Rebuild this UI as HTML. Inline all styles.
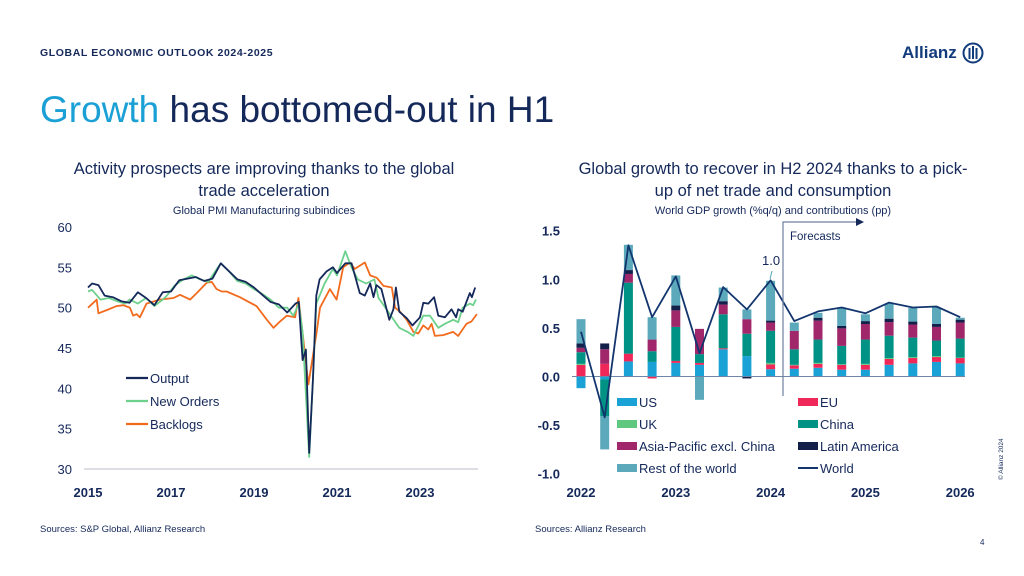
<!DOCTYPE html>
<html><head><meta charset="utf-8"><style>
html,body{margin:0;padding:0;background:#fff;}
svg{display:block;font-family:"Liberation Sans",sans-serif;}
</style></head><body>
<svg id="s" width="1024" height="576" viewBox="0 0 1024 576">
<text x="40" y="56" font-size="10.5" font-weight="bold" fill="#14285a" letter-spacing="0.6">GLOBAL ECONOMIC OUTLOOK 2024-2025</text>
<g>
<text x="902" y="58" font-size="17" font-weight="bold" fill="#123c7c">Allianz</text>
<circle cx="973" cy="53" r="9.5" fill="none" stroke="#123c7c" stroke-width="2"/>
<rect x="968.5" y="48" width="2" height="11" fill="#123c7c"/><rect x="972" y="46" width="2" height="13" fill="#123c7c"/><rect x="975.5" y="48" width="2" height="11" fill="#123c7c"/>
</g>
<text x="40" y="122" font-size="37" fill="#14285a"><tspan fill="#1ba0d6">Growth</tspan> has bottomed-out in H1</text>
<text x="264" y="174" font-size="16.5" text-anchor="middle" fill="#14285a">Activity prospects are improving thanks to the global</text>
<text x="264" y="196" font-size="16.5" text-anchor="middle" fill="#14285a">trade acceleration</text>
<text x="264" y="214" font-size="11" text-anchor="middle" fill="#14285a">Global PMI Manufacturing subindices</text>
<text x="773" y="174" font-size="16.5" text-anchor="middle" fill="#14285a">Global growth to recover in H2 2024 thanks to a pick-</text>
<text x="773" y="196" font-size="16.5" text-anchor="middle" fill="#14285a">up of net trade and consumption</text>
<text x="773" y="214" font-size="11" text-anchor="middle" fill="#14285a">World GDP growth (%q/q) and contributions (pp)</text>
<g id="left"></g>
<g id="right"></g>
<text x="40" y="532" font-size="9.5" fill="#14285a">Sources: S&amp;P Global, Allianz Research</text>
<text x="535" y="532" font-size="9.5" fill="#14285a">Sources: Allianz Research</text>
<text x="980" y="545" font-size="8" fill="#14285a">4</text>
<text transform="translate(1003,480) rotate(-90)" font-size="6.5" fill="#14285a">© Allianz 2024</text>
</svg>
<script>
// ---- Left chart data ----
const pmiYTicks = [60, 55, 50, 45, 40, 35, 30];
const pmiXTicks = [2015, 2017, 2019, 2021, 2023];
const outputDates = [2015,2015.1,2015.25,2015.4,2015.6,2015.8,2016,2016.2,2016.4,2016.6,2016.8,2017,2017.2,2017.4,2017.6,2017.8,2018,2018.2,2018.4,2018.6,2018.8,2019,2019.2,2019.4,2019.6,2019.8,2020,2020.08,2020.17,2020.25,2020.33,2020.42,2020.5,2020.58,2020.75,2020.9,2021,2021.2,2021.35,2021.55,2021.67,2021.8,2021.88,2021.95,2022.07,2022.26,2022.36,2022.42,2022.5,2022.68,2022.82,2023,2023.08,2023.2,2023.34,2023.44,2023.6,2023.76,2023.87,2023.92,2024.03,2024.2,2024.25,2024.33];
const outputValues = [52.5,53,52.8,51.5,51.3,50.8,50.6,51.9,51.2,50.3,51.9,52,53.4,53.6,53.8,53.3,53.6,55.5,54.5,53.5,53.2,52.5,51.6,50.7,50.4,49.4,50.5,50.7,43.5,44.8,32,41,51.5,53.5,54.5,55,54.3,55.5,55.5,51.8,51.5,53,51.3,52.8,52.3,48.5,49.8,52.5,49.5,48.7,47.8,48.8,50.6,50.5,51.3,49,48.8,49.8,48.8,49.8,49.5,51.8,51.3,52.5];
const ordersDates = [2015,2015.1,2015.3,2015.5,2015.7,2015.9,2016,2016.2,2016.4,2016.6,2016.8,2016.9,2017.1,2017.3,2017.5,2017.7,2017.9,2018,2018.2,2018.4,2018.6,2018.8,2019,2019.2,2019.4,2019.6,2019.8,2019.95,2020.08,2020.17,2020.33,2020.42,2020.5,2020.7,2020.9,2021,2021.2,2021.35,2021.5,2021.7,2021.9,2022,2022.1,2022.3,2022.5,2022.7,2022.84,2023.08,2023.24,2023.44,2023.6,2023.8,2023.92,2024.03,2024.2,2024.28,2024.35];
const ordersValues = [52,52.2,51,51.2,50.8,50.5,51,50.5,51.2,50.2,51,51.5,52.8,53.5,54,53.5,53.2,54,55.5,54.5,53.3,53,52.3,51.7,51,50,50,49,50.5,47,31.5,41,50.5,53,54.8,54,57,55,53.5,53,53.5,51.2,50.5,49,47.5,47,46.5,49,49,47.5,48,48.5,48.2,50,50.5,50.3,51];
const backlogDates = [2015,2015.17,2015.21,2015.25,2015.45,2015.69,2015.85,2016.01,2016.09,2016.17,2016.25,2016.41,2016.73,2017.06,2017.22,2017.46,2017.62,2017.86,2017.98,2018.1,2018.22,2018.34,2018.66,2019.06,2019.31,2019.47,2019.63,2019.79,2019.99,2020.07,2020.19,2020.31,2020.51,2020.59,2020.83,2020.99,2021.15,2021.31,2021.43,2021.67,2021.8,2021.96,2022.12,2022.32,2022.4,2022.52,2022.68,2022.84,2022.96,2023.08,2023.2,2023.28,2023.36,2023.56,2023.8,2023.92,2024.12,2024.24,2024.37];
const backlogValues = [50,50.8,51,49.3,49.7,50.2,50.3,50,49,49.2,48.8,50.5,51,51.2,51.6,51,51.8,53.1,53.2,52.3,52,52,51.3,50.2,48.5,47.5,48.3,49,48.8,51.2,46,40.5,47,50,52.3,51,55,55.6,54.8,55.6,54,53.7,52.7,52.5,50,49.5,48.5,47,46.8,47.8,47.3,48,46.5,46.6,47,46.5,48,48.3,49.2];

// ---- Right chart data ----
const gdpCategories = ["2022Q1","2022Q2","2022Q3","2022Q4","2023Q1","2023Q2","2023Q3","2023Q4","2024Q1","2024Q2","2024Q3","2024Q4","2025Q1","2025Q2","2025Q3","2025Q4","2026Q1"];
const gdpXLabels = ["2022","2023","2024","2025","2026"];
const gdpYTicks = [1.5,1.0,0.5,0.0,-0.5,-1.0];
const usValues   = [-0.12,-0.03,0.155,0.15,0.14,0.12,0.28,0.21,0.075,0.08,0.09,0.07,0.07,0.12,0.135,0.15,0.135];
const euValues   = [0.12,0.13,0.08,-0.02,0.02,0.02,0.01,0.0,0.05,0.035,0.04,0.05,0.05,0.06,0.055,0.05,0.055];
const ukValues   = [0.01,0.0,0.0,0.0,0.0,0.0,0.0,0.0,0.015,0.005,0.01,0.005,0.01,0.01,0.01,0.01,0.005];
const chinaValues= [0.12,-0.38,0.73,0.11,0.35,0.09,0.35,0.23,0.33,0.16,0.24,0.19,0.25,0.23,0.2,0.16,0.195];
const apacValues = [0.045,0.15,0.09,0.12,0.17,0.26,0.1,0.15,0.085,0.19,0.195,0.18,0.16,0.14,0.135,0.14,0.165];
const latamValues= [0.045,0.06,0.04,0.0,0.05,0.0,0.035,-0.02,0.02,0.0,0.03,0.025,0.03,0.035,0.03,0.03,0.03];
const restValues = [0.25,-0.34,0.26,0.23,0.31,-0.24,0.14,0.1,0.41,0.085,0.05,0.18,0.07,0.155,0.14,0.17,0.02];
const worldValues= [0.46,-0.42,1.35,0.61,1.03,0.24,0.92,0.69,0.99,0.57,0.67,0.71,0.65,0.76,0.71,0.72,0.61];

const NS="http://www.w3.org/2000/svg";
function mk(tag,attrs,parent,txt){const e=document.createElementNS(NS,tag);for(const k in attrs)e.setAttribute(k,attrs[k]);if(txt!==undefined)e.textContent=txt;parent.appendChild(e);return e;}
const NAVY="#14285a";

// Left chart
const L=document.getElementById('left');
const lx=t=>88+(t-2015)*41.5;
const ly=v=>469-(v-30)*(242/30);
mk('line',{x1:84,x2:478,y1:469,y2:469,stroke:'#b8bcc8','stroke-width':1},L);
pmiYTicks.forEach(v=>{const t=mk('text',{x:72,y:ly(v)+5,'font-size':13,'text-anchor':'end',fill:NAVY},L,String(v));

});
pmiXTicks.forEach(v=>{const t=mk('text',{x:lx(v),y:497,'font-size':13,'text-anchor':'middle','font-weight':'bold',fill:NAVY},L,String(v));

});
function line(dates,vals,color,name){const d=dates.map((t,i)=>(i?'L':'M')+lx(t).toFixed(1)+' '+ly(vals[i]).toFixed(1)).join(' ');
const p=mk('path',{d:d,fill:'none',stroke:color,'stroke-width':1.8,'stroke-linejoin':'round'},L);

}
line(backlogDates,backlogValues,'#f26b1d','backlogs-line');
line(ordersDates,ordersValues,'#6dd08c','new-orders-line');
line(outputDates,outputValues,'#14285a','output-line');
[['Output','#14285a',378],['New Orders','#6dd08c',401],['Backlogs','#f26b1d',424]].forEach(([n,c,y])=>{
const g=mk('g',{},L);


mk('line',{x1:126,x2:148,y1:y,y2:y,stroke:c,'stroke-width':2.2},g);
mk('text',{x:150,y:y+5,'font-size':13,fill:NAVY},g,n);});

// Right chart
const R=document.getElementById('right');
const rx=i=>581+i*23.7;
const ry=v=>376.5-v*97.2;
gdpYTicks.forEach(v=>{const t=mk('text',{x:560,y:ry(v)+5,'font-size':13,'text-anchor':'end','font-weight':'bold',fill:NAVY},R,v.toFixed(1));

});
gdpXLabels.forEach((v,i)=>{const t=mk('text',{x:rx(i*4),y:497,'font-size':13,'text-anchor':'middle','font-weight':'bold',fill:NAVY},R,v);

});
const series=[[usValues,'#1aa2d6','US'],[euValues,'#f0285a','EU'],[ukValues,'#5ec97e','UK'],[chinaValues,'#009284','China'],[apacValues,'#a0286a','Asia-Pacific excl. China'],[latamValues,'#13204a','Latin America'],[restValues,'#5ba9bb','Rest of the world']];
gdpCategories.forEach((c,i)=>{let pos=0,neg=0;
series.forEach(([vals,col])=>{const v=vals[i];if(!v)return;let y0,y1;
if(v>0){y0=pos;y1=pos+v;pos=y1;}else{y0=neg;y1=neg+v;neg=y1;}
const r=mk('rect',{x:rx(i)-4.5,y:Math.min(ry(y0),ry(y1)),width:9,height:Math.abs(ry(y0)-ry(y1)),fill:col},R);

});});
mk('line',{x1:572,x2:965,y1:ry(0),y2:ry(0),stroke:'#6d86a8','stroke-width':1},R);
const wd=worldValues.map((v,i)=>(i?'L':'M')+rx(i).toFixed(1)+' '+ry(v).toFixed(1)).join(' ');
const wp=mk('path',{d:wd,fill:'none',stroke:'#12356e','stroke-width':1.8,'stroke-linejoin':'round'},R);


const fl=mk('path',{d:'M783 396 L783 222 L858 222',fill:'none',stroke:'#6d7fa0','stroke-width':1.2},R);


mk('path',{d:'M856 218 L864 222 L856 226 Z',fill:'#14285a'},R);
mk('text',{x:790,y:240,'font-size':11.5,fill:NAVY},R,'Forecasts');
mk('text',{x:762,y:265,'font-size':13,fill:NAVY},R,'1.0');
mk('line',{x1:772,x2:770,y1:271,y2:279,stroke:'#5ba9bb','stroke-width':1},R);
[['US','#1aa2d6',617,402],['EU','#f0285a',798,402],['UK','#5ec97e',617,424],['China','#009284',798,424],['Asia-Pacific excl. China','#a0286a',617,446],['Latin America','#13204a',798,446],['Rest of the world','#5ba9bb',617,468]].forEach(([n,c,x,y])=>{
const g=mk('g',{},R);


mk('rect',{x:x,y:y-4,width:20,height:8,fill:c},g);
mk('text',{x:x+22,y:y+5,'font-size':13,fill:NAVY},g,n);});
const wg=mk('g',{},R);


mk('line',{x1:798,x2:818,y1:468,y2:468,stroke:'#12356e','stroke-width':2},wg);
mk('text',{x:820,y:473,'font-size':13,fill:NAVY},wg,'World');
</script>
</body></html>
